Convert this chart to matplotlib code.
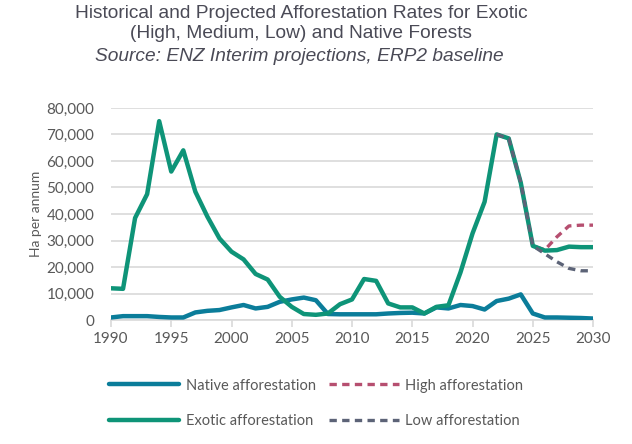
import numpy as np
import matplotlib.pyplot as plt
from matplotlib.ticker import FuncFormatter

years = list(range(1990, 2031))

native = [1000, 1500, 1500, 1500, 1200, 1000, 1000, 2900, 3500, 3800,
          4800, 5700, 4400, 5000, 6900, 7800, 8500, 7500, 2300, 2200,
          2200, 2200, 2200, 2500, 2700, 2800, 2500, 4800, 4400, 5700,
          5300, 4000, 7200, 8100, 9700, 2500, 1000, 1000, 900, 800, 600]

exotic = [12000, 11800, 38500, 47500, 75000, 56000, 64000, 48400, 39000, 30800,
          25800, 22900, 17400, 15300, 8800, 5000, 2300, 2000, 2500, 6000,
          7800, 15500, 14800, 6300, 4800, 4800, 2500, 5000, 5600, 18000,
          32700, 44600, 70000, 68500, 51800, 28000, 26200, 26400, 27700, 27500, 27500]

proj_years = list(range(2022, 2031))
high = [70000, 68500, 51800, 28000, 26500, 31400, 35500, 35800, 35800]
low = [70000, 68500, 51800, 28000, 25000, 22000, 19500, 18600, 18600]

c_native = '#0b7d9a'
c_exotic = '#0e9478'
c_high = '#b64f70'
c_low = '#5c6377'
c_text = '#595959'

fig = plt.figure(figsize=(6.32, 4.44), dpi=100)
ax = fig.add_axes([0.1756, 0.279, 0.7628, 0.478])

ax.plot(proj_years, high, color=c_high, lw=2.4, ls=(0, (2.2, 1.6)), label='High afforestation', zorder=2)
ax.plot(years, native, color=c_native, lw=3.2, solid_capstyle='round', label='Native afforestation', zorder=3)
ax.plot(years, exotic, color=c_exotic, lw=3.2, solid_capstyle='round', label='Exotic afforestation', zorder=3)
ax.plot(proj_years, low, color=c_low, lw=2.4, ls=(0, (2.2, 1.6)), label='Low afforestation', zorder=4)

ax.set_xlim(1990, 2030)
ax.set_ylim(0, 80000)
ax.set_xticks(range(1990, 2031, 5))
ax.set_yticks(range(0, 80001, 10000))
ax.yaxis.set_major_formatter(FuncFormatter(lambda v, p: f'{int(v):,}'))
ax.grid(axis='y', color='#d9d9d9', lw=1.2)
ax.set_axisbelow(True)
for s in ['top', 'right', 'left']:
    ax.spines[s].set_visible(False)
ax.spines['bottom'].set_color('#d9d9d9')
ax.spines['bottom'].set_linewidth(1.2)
ax.tick_params(axis='x', colors='#d9d9d9', length=5, width=1.2, labelcolor=c_text, labelsize=11)
ax.tick_params(axis='y', length=0, labelcolor=c_text, labelsize=11, pad=12)
for lab in ax.get_xticklabels() + ax.get_yticklabels():
    lab.set_family('Lato')
ax.set_ylabel('Ha per annum', color=c_text, fontsize=10, family='Lato', labelpad=3)

fig.text(0.476, 0.988, 'Historical and Projected Afforestation Rates for Exotic\n(High, Medium, Low) and Native Forests',
         ha='center', va='top', fontsize=13.8, color='#4a4a56', family='Liberation Sans', linespacing=1.2)
fig.text(0.473, 0.892, 'Source: ENZ Interim projections, ERP2 baseline', ha='center', va='top',
         fontsize=13.8, color='#4a4a56', family='Liberation Sans', style='italic')

h, l = ax.get_legend_handles_labels()
order = [1, 2, 0, 3]
leg = fig.legend([h[i] for i in order], [l[i] for i in order], ncol=2, loc='upper left',
                 bbox_to_anchor=(0.152, 0.177), frameon=False, handlelength=4.8,
                 labelspacing=1.5, columnspacing=0.9, handletextpad=0.45,
                 prop={'family': 'Lato', 'size': 10.5}, labelcolor=c_text)

fig.savefig('out.png', dpi=100)
